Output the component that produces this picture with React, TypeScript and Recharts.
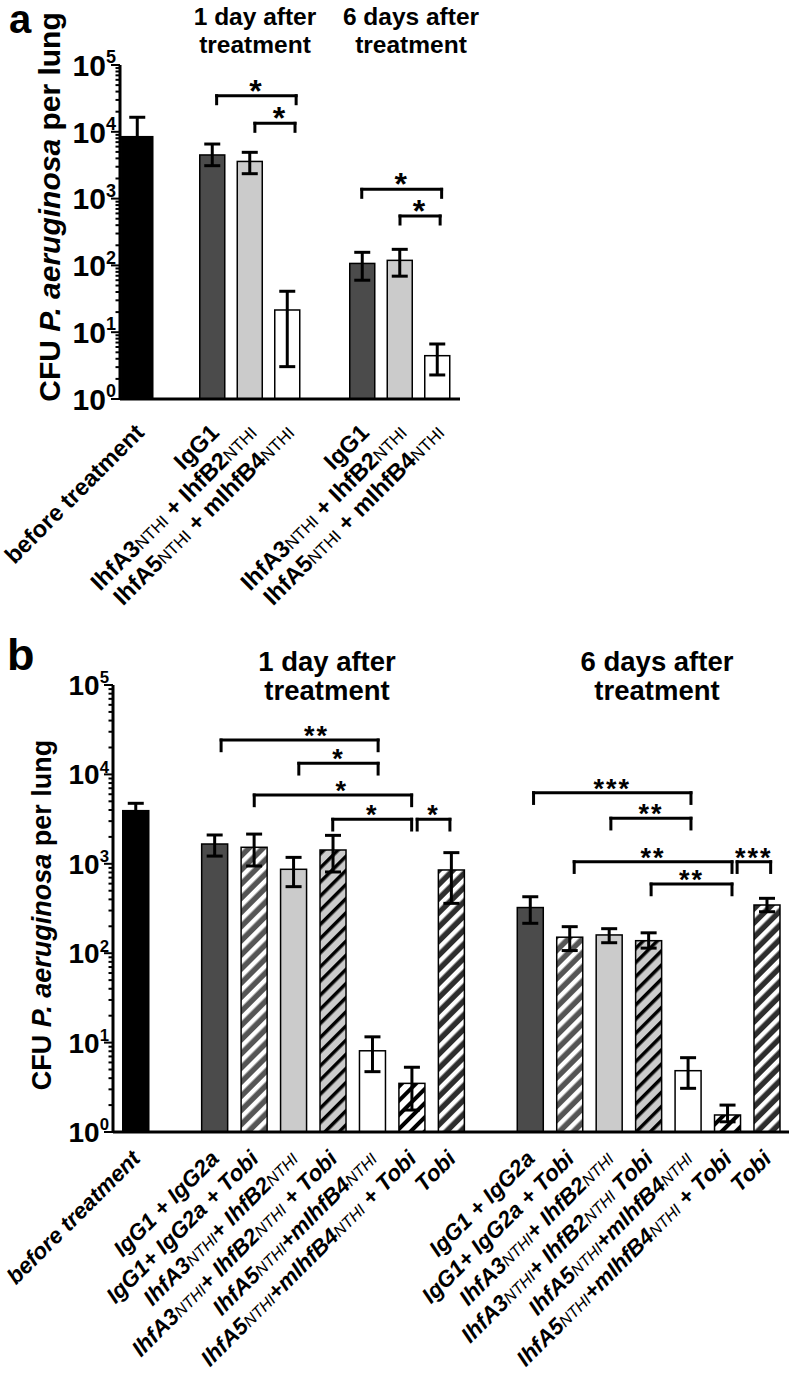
import React from "react";
import {
  Bar,
  BarChart,
  Cell,
  ErrorBar,
  ReferenceDot,
  ReferenceLine,
  XAxis,
  YAxis,
} from "recharts";

const FONT = "'Liberation Sans', Arial, Helvetica, sans-serif";

// ---------- panel a ----------
// slot = position on the x axis (empty slots separate the groups)
const slotsA = [0, 2, 3, 4, 6, 7, 8];
const labelsA = [
  "before treatment",
  "IgG1",
  "IhfA3{NTHI} + IhfB2{NTHI}",
  "IhfA5{NTHI} + mIhfB4{NTHI}",
  "IgG1",
  "IhfA3{NTHI} + IhfB2{NTHI}",
  "IhfA5{NTHI} + mIhfB4{NTHI}",
];
const cfuA = [8450, 4500, 3600, 21.5, 107, 119, 4.45];
const lowA = [4300, 3110, 2360, 3.05, 60, 69, 2.29];
const highA = [16500, 6560, 4930, 41, 157, 174, 6.66];

const bracketsA = [
  { from: 2.11, to: 4.23, level: 34700, mark: "*" },
  { from: 3.13, to: 4.2, level: 13400, mark: "*", at: 3.8 },
  { from: 5.98, to: 8.11, level: 1377, mark: "*" },
  { from: 7.0, to: 8.07, level: 549, mark: "*" },
];

// ---------- panel b ----------
const slotsB = [0, 2, 3, 4, 5, 6, 7, 8, 10, 11, 12, 13, 14, 15, 16];
const labelsB = [
  "before treatment",
  "IgG1 + IgG2a",
  "IgG1+ IgG2a + Tobi",
  "IhfA3{NTHI}+ IhfB2{NTHI}",
  "IhfA3{NTHI}+ IhfB2{NTHI} + Tobi",
  "IhfA5{NTHI}+mIhfB4{NTHI}",
  "IhfA5{NTHI}+mIhfB4{NTHI} + Tobi",
  "Tobi",
  "IgG1 + IgG2a",
  "IgG1+ IgG2a + Tobi",
  "IhfA3{NTHI}+ IhfB2{NTHI}",
  "IhfA3{NTHI}+ IhfB2{NTHI} Tobi",
  "IhfA5{NTHI}+mIhfB4{NTHI}",
  "IhfA5{NTHI}+mIhfB4{NTHI} + Tobi",
  "Tobi",
];
const cfuB = [3930, 1665, 1530, 868, 1427, 8.1, 3.5, 853, 324, 151, 160, 138, 4.85, 1.55, 346];
const lowB = [3100, 1220, 945, 555, 810, 4.73, 1.76, 361, 216, 107, 131, 114, 3.08, 1.3, 291];
const highB = [4750, 2100, 2150, 1180, 2080, 11.6, 5.3, 1333, 428, 198, 188, 169, 6.78, 2.0, 411];

const bracketsB = [
  { from: 2.17, to: 6.15, level: 24260, mark: "**", at: 4.59 },
  { from: 4.14, to: 6.15, level: 13300, mark: "*" },
  { from: 3.01, to: 7.0, level: 5890, mark: "*", at: 5.23 },
  { from: 5.0, to: 7.0, level: 3147, mark: "*" },
  { from: 7.14, to: 7.97, level: 3147, mark: "*" },
  { from: 10.09, to: 14.08, level: 6240, mark: "***" },
  { from: 12.05, to: 14.08, level: 3235, mark: "**" },
  { from: 11.12, to: 15.12, level: 1055, mark: "**" },
  { from: 13.07, to: 15.12, level: 594, mark: "**" },
  { from: 15.25, to: 16.1, level: 1055, mark: "***" },
];

// bar styles
const DARK = "#4b4b4b";
const LIGHT = "#cbcbcb";
const fillsA = ["#000", DARK, LIGHT, "#fff", DARK, LIGHT, "#fff"];
const groupB = [DARK, "url(#hDark)", LIGHT, "url(#hLight)", "#fff", "url(#hWhite)", "url(#hTobi)"];
const fillsB = ["#000", ...groupB, ...groupB];

const decades = [1, 10, 100, 1000, 10000, 100000];
const logTicks = decades.flatMap((d, i) =>
  i < decades.length - 1 ? [1, 2, 3, 4, 5, 6, 7, 8, 9].map((m) => m * d) : [d]
);

function LogTick(props: any) {
  const { x, y, payload, fontSize } = props;
  const v = payload.value;
  const exp = Math.round(Math.log10(v));
  const major = Math.abs(v - Math.pow(10, exp)) < 1e-6 * v;
  return (
    <g>
      <line x1={x} x2={x - (major ? 9 : 4.5)} y1={y} y2={y} stroke="#000" strokeWidth={2} />
      {major && (
        <text
          x={x - 4}
          y={y + fontSize * 0.36}
          textAnchor="end"
          fontFamily={FONT}
          fontWeight="bold"
          fontSize={fontSize}
        >
          10
          <tspan dy={-fontSize * 0.42} fontSize={fontSize * 0.6}>
            {exp}
          </tspan>
        </text>
      )}
    </g>
  );
}

function rich(text: string, sub: number) {
  return text
    .split(/(\{[^}]+\})/)
    .filter(Boolean)
    .map((s, k) =>
      s.startsWith("{") ? (
        <tspan key={k} fontWeight="normal" fontSize={sub}>
          {s.slice(1, -1)}
        </tspan>
      ) : (
        <tspan key={k}>{s}</tspan>
      )
    );
}

function SlotTick(props: any) {
  const { x, y, payload, slots, labels, fontSize, italic, dx, dy } = props;
  const i = slots.indexOf(payload.value);
  if (i < 0) return null;
  const ax = x + dx;
  const ay = y + dy;
  return (
    <text
      x={ax}
      y={ay}
      transform={`rotate(-45 ${ax} ${ay})`}
      textAnchor="end"
      fontFamily={FONT}
      fontWeight="bold"
      fontStyle={italic ? "italic" : "normal"}
      fontSize={fontSize}
      style={{ whiteSpace: "pre" }}
    >
      {rich(labels[i], fontSize * 0.72)}
    </text>
  );
}

type Bracket = { from: number; to: number; level: number; mark: string; at?: number };

function brackets(list: Bracket[], p: string, markSize: number, markDy: number) {
  const drop = Math.pow(10, 0.12);
  const line = { stroke: "#000", strokeWidth: 3, strokeLinecap: "square" as const, ifOverflow: "visible" as const };
  return list.flatMap((b, k) => [
    <ReferenceLine key={`${p}h${k}`} {...line} segment={[{ x: b.from, y: b.level }, { x: b.to, y: b.level }]} />,
    <ReferenceLine key={`${p}l${k}`} {...line} segment={[{ x: b.from, y: b.level }, { x: b.from, y: b.level / drop }]} />,
    <ReferenceLine key={`${p}r${k}`} {...line} segment={[{ x: b.to, y: b.level }, { x: b.to, y: b.level / drop }]} />,
    <ReferenceDot
      key={`${p}m${k}`}
      x={b.at ?? (b.from + b.to) / 2}
      y={b.level}
      r={1}
      ifOverflow="visible"
      shape={(d: any) => (
        <text
          x={d.cx}
          y={d.cy + markDy}
          textAnchor="middle"
          fontFamily={FONT}
          fontWeight="bold"
          fontSize={markSize}
          letterSpacing={2}
        >
          {b.mark}
        </text>
      )}
    />,
  ]);
}

const barShape = (widenFirst: number) => (p: any) => {
  const w = p.width * (p.payload?.slot === 0 ? widenFirst : 1);
  return (
    <rect
      x={p.x + p.width / 2 - w / 2}
      y={p.y}
      width={w}
      height={p.height}
      fill={p.fill}
      stroke="#000"
      strokeWidth={1.5}
    />
  );
};

function hatch(id: string, bg: string, stripe: string, sw: number) {
  return (
    <pattern id={id} patternUnits="userSpaceOnUse" width={10} height={10} patternTransform="rotate(45)">
      <rect width={10} height={10} fill={bg} />
      <rect width={sw} height={10} fill={stripe} />
    </pattern>
  );
}

const rowsA = slotsA.map((slot, i) => ({
  slot,
  cfu: cfuA[i],
  err: [cfuA[i] - lowA[i], highA[i] - cfuA[i]],
}));
const rowsB = slotsB.map((slot, i) => ({
  slot,
  cfu: cfuB[i],
  err: [cfuB[i] - lowB[i], highB[i] - cfuB[i]],
}));

const axisLine = { stroke: "#000", strokeWidth: 3 };

export default function App() {
  return (
    <div style={{ position: "absolute", left: 0, top: 0, width: 792, height: 1379, background: "#fff" }}>
      <div style={{ position: "absolute", left: 0, top: 0 }}>
        <BarChart width={480} height={620} data={rowsA} margin={{ top: 65, right: 20, bottom: 21, left: 0 }}>
          <XAxis
            type="number"
            dataKey="slot"
            domain={[-0.467, 8.6]}
            allowDataOverflow
            ticks={slotsA}
            interval={0}
            tickLine={false}
            tickSize={0}
            tickMargin={0}
            axisLine={axisLine}
            height={200}
            tick={(p: any) => (
              <SlotTick {...p} slots={slotsA} labels={labelsA} fontSize={23.5} italic={false} dx={8} dy={35} />
            )}
          />
          <YAxis
            type="number"
            scale="log"
            domain={[1, 100000]}
            allowDataOverflow
            ticks={logTicks}
            interval={0}
            tickLine={false}
            tickSize={0}
            tickMargin={0}
            width={120}
            axisLine={axisLine}
            tick={(p: any) => <LogTick {...p} fontSize={30} />}
          />
          <Bar dataKey="cfu" barSize={25} isAnimationActive={false} shape={barShape(1.24)}>
            {rowsA.map((r, i) => (
              <Cell key={r.slot} fill={fillsA[i]} />
            ))}
            <ErrorBar dataKey="err" direction="y" width={8} strokeWidth={3} stroke="#000" isAnimationActive={false} />
          </Bar>
          {brackets(bracketsA, "a", 32, 6)}
        </BarChart>
      </div>

      <div style={{ position: "absolute", left: 0, top: 620 }}>
        <BarChart width={792} height={759} data={rowsB} margin={{ top: 65, right: 3, bottom: 17, left: 0 }}>
          <defs>
            {hatch("hDark", "#555", "#fff", 4.5)}
            {hatch("hLight", LIGHT, "#000", 3.5)}
            {hatch("hWhite", "#fff", "#000", 4)}
            {hatch("hTobi", "#2e2e2e", "#fff", 4.5)}
          </defs>
          <XAxis
            type="number"
            dataKey="slot"
            domain={[-0.57, 16.565]}
            allowDataOverflow
            ticks={slotsB}
            interval={0}
            tickLine={false}
            tickSize={0}
            tickMargin={0}
            axisLine={axisLine}
            height={230}
            tick={(p: any) => (
              <SlotTick {...p} slots={slotsB} labels={labelsB} fontSize={22.5} italic dx={6} dy={28} />
            )}
          />
          <YAxis
            type="number"
            scale="log"
            domain={[1, 100000]}
            allowDataOverflow
            ticks={logTicks}
            interval={0}
            tickLine={false}
            tickSize={0}
            tickMargin={0}
            width={113}
            axisLine={axisLine}
            tick={(p: any) => <LogTick {...p} fontSize={28} />}
          />
          <Bar dataKey="cfu" barSize={26} isAnimationActive={false} shape={barShape(1)}>
            {rowsB.map((r, i) => (
              <Cell key={r.slot} fill={fillsB[i]} />
            ))}
            <ErrorBar dataKey="err" direction="y" width={8} strokeWidth={3} stroke="#000" isAnimationActive={false} />
          </Bar>
          {brackets(bracketsB, "b", 27, 5)}
        </BarChart>
      </div>

      <svg
        width={792}
        height={1379}
        style={{ position: "absolute", left: 0, top: 0, pointerEvents: "none" }}
        fontFamily={FONT}
        fontWeight="bold"
      >
        <text x={9} y={33} fontSize={40}>a</text>
        <text x={255} y={25} fontSize={24.5} textAnchor="middle">1 day after</text>
        <text x={255} y={53} fontSize={24.5} textAnchor="middle">treatment</text>
        <text x={411} y={25} fontSize={24.5} textAnchor="middle">6 days after</text>
        <text x={411} y={53} fontSize={24.5} textAnchor="middle">treatment</text>
        <text transform="translate(49,207) rotate(-90)" textAnchor="middle" dominantBaseline="central" fontSize={30}>
          CFU <tspan fontStyle="italic">P. aeruginosa</tspan> per lung
        </text>

        <text x={7} y={670} fontSize={45}>b</text>
        <text x={327} y={671} fontSize={27.5} textAnchor="middle">1 day after</text>
        <text x={327} y={700} fontSize={27.5} textAnchor="middle">treatment</text>
        <text x={657} y={671} fontSize={27.5} textAnchor="middle">6 days after</text>
        <text x={657} y={700} fontSize={27.5} textAnchor="middle">treatment</text>
        <text transform="translate(42,915) rotate(-90)" textAnchor="middle" dominantBaseline="central" fontSize={27}>
          CFU <tspan fontStyle="italic">P. aeruginosa</tspan> per lung
        </text>
      </svg>
    </div>
  );
}
